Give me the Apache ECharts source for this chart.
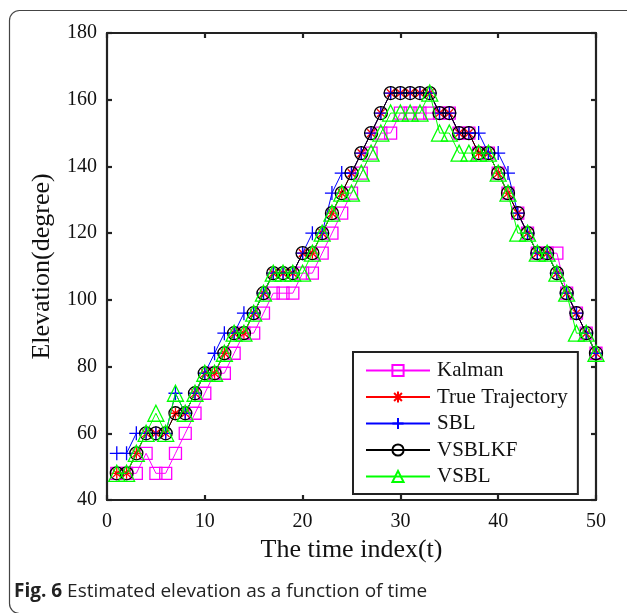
<!DOCTYPE html>
<html>
<head>
<meta charset="utf-8">
<script src="https://cdn.jsdelivr.net/npm/echarts@6/dist/echarts.min.js"></script>
<style>
html,body{margin:0;padding:0;background:#fff;}
#chart{width:627px;height:613px;}
</style>
</head>
<body>
<div id="chart"></div>
<script>
// ---- data ----
const timeIndex = [1,2,3,4,5,6,7,8,9,10,11,12,13,14,15,16,17,18,19,20,21,22,23,24,25,26,27,28,29,30,31,32,33,34,35,36,37,38,39,40,41,42,43,44,45,46,47,48,49,50];
const kalman = [48,48,48,54,48,48,54,60,66,72,78,78,84,90,90,96,102,102,102,108,108,114,120,126,132,138,144,150,150,156,156,156,156,156,156,150,150,144,144,138,132,126,120,114,114,114,102,96,90,84];
const trueTraj = [48,48,54,60,60,60,66,66,72,78,78,84,90,90,96,102,108,108,108,114,114,120,126,132,138,144,150,156,162,162,162,162,162,156,156,150,150,144,144,138,132,126,120,114,114,108,102,96,90,84];
const sbl = [54,54,60,60,60,60,72,66,72,78,84,90,90,96,96,102,108,108,108,114,120,120,132,138,138,144,150,156,162,162,162,162,162,156,156,150,150,150,144,144,138,126,120,114,114,108,102,96,90,84];
const vsblkf = [48,48,54,60,60,60,66,66,72,78,78,84,90,90,96,102,108,108,108,114,114,120,126,132,138,144,150,156,162,162,162,162,162,156,156,150,150,144,144,138,132,126,120,114,114,108,102,96,90,84];
const vsbl = [48,48,54,60,66,60,72,66,72,78,78,84,90,90,96,102,108,108,108,108,114,120,126,132,132,138,144,150,156,156,156,156,162,150,150,144,144,144,144,138,132,120,120,114,114,108,102,90,90,84];
const seriesNames = ['Kalman','True Trajectory','SBL','VSBLKF','VSBL'];
const xTicks = [0,10,20,30,40,50];
const yTicks = [40,60,80,100,120,140,160,180];

const pairs = arr => arr.map((v,i)=>[timeIndex[i], v]);
const STAR = 'path://M0,-1L0,1M-1,0L1,0M-0.7,-0.7L0.7,0.7M-0.7,0.7L0.7,-0.7';
const PLUS = 'path://M0,-1L0,1M-1,0L1,0';

function mk(name, data, color, symbol, size, z){
  return {
    name, type:'line', data: pairs(data), symbol, symbolSize:size, z,
    showAllSymbol:true, animation:false,
    lineStyle:{color, width:1},
    itemStyle:{color:'rgba(0,0,0,0)', borderColor:color, borderWidth:1.3},
    emphasis:{disabled:true}
  };
}

const serif = '"Liberation Serif","Times New Roman",serif';
const chart = echarts.init(document.getElementById('chart'), null, {renderer:'canvas'});
const axisCommon = {
  axisLine:{show:true, onZero:false, lineStyle:{color:'#222', width:2.2}},
  axisTick:{show:true, inside:true, length:5, lineStyle:{color:'#222', width:2.2}},
  splitLine:{show:false}
};
chart.setOption({
  animation:false,
  backgroundColor:'#fff',
  grid:{left:107, right:31, top:33, bottom:113, containLabel:false},
  xAxis:[
    Object.assign({type:'value', min:0, max:50, interval:10, position:'bottom',
      name:'The time index(t)', nameLocation:'middle', nameGap:37,
      nameTextStyle:{fontFamily:serif, fontSize:26, color:'#111'},
      axisLabel:{fontFamily:serif, fontSize:20, color:'#111', margin:12,
        formatter: v => xTicks.includes(v) ? String(v) : ''}}, axisCommon),
    Object.assign({type:'value', min:0, max:50, interval:10, position:'top',
      axisLabel:{show:false}}, axisCommon)
  ],
  yAxis:[
    Object.assign({type:'value', min:40, max:180, interval:20, position:'left',
      name:'Elevation(degree)', nameLocation:'middle', nameGap:52,
      nameTextStyle:{fontFamily:serif, fontSize:26, color:'#111'},
      axisLabel:{fontFamily:serif, fontSize:20, color:'#111', margin:10,
        formatter: v => yTicks.includes(v) ? String(v) : ''}}, axisCommon),
    Object.assign({type:'value', min:40, max:180, interval:20, position:'right',
      axisLabel:{show:false}}, axisCommon)
  ],
  legend:{
    show:true, orient:'vertical', left:353, top:352, width:223,
    padding:[8,10,7,12], itemGap:5.5, itemWidth:64, itemHeight:14,
    backgroundColor:'#fff', borderColor:'#222', borderWidth:2,
    textStyle:{fontFamily:serif, fontSize:21, lineHeight:21, color:'#111', padding:[0,0,0,2]},
    data: seriesNames.map(n=>({name:n})),
    selectedMode:false
  },
  series:[
    mk(seriesNames[0], kalman, '#ff00ff', 'rect', 12, 2),
    mk(seriesNames[1], trueTraj, '#ff0000', STAR, 11, 3),
    mk(seriesNames[2], sbl, '#0000ff', PLUS, 14, 4),
    mk(seriesNames[3], vsblkf, '#000000', 'circle', 13, 5),
    mk(seriesNames[4], vsbl, '#00ff00', 'triangle', 16, 6)
  ],
  graphic:[
    {type:'rect', left:7, top:8, shape:{width:640, height:603, r:10}, silent:true, z:-10,
      style:{fill:'none', stroke:'#444', lineWidth:1.2}},
    {type:'text', left:14, top:582, silent:true,
      style:{text:'{b|Fig. 6} Estimated elevation as a function of time',
        rich:{b:{fontWeight:'bold', fontFamily:'"Open Sans",sans-serif', fontSize:19, fill:'#222'}},
        font:'19px "Open Sans", sans-serif', fill:'#222'}}
  ]
});
</script>
</body>
</html>
